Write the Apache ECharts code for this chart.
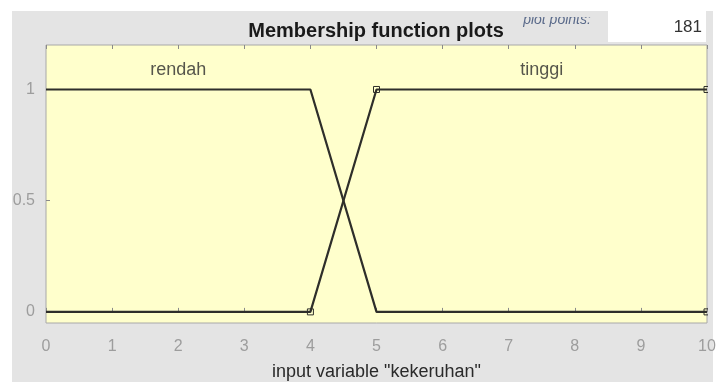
<!DOCTYPE html>
<html>
<head>
<meta charset="utf-8">
<script src="https://cdn.jsdelivr.net/npm/echarts@6/dist/echarts.min.js"></script>
<style>
  html, body { margin: 0; padding: 0; background: #ffffff; }
  #chart { width: 721px; height: 382px; }
</style>
</head>
<body>
<div id="chart"></div>
<script>
// Membership functions of the input variable "kekeruhan"
const xTicks = [0, 1, 2, 3, 4, 5, 6, 7, 8, 9, 10];
const yTicks = [0, 0.5, 1];
const rendahX = [0, 4, 5, 10];
const rendahY = [1, 1, 0, 0];
const tinggiX = [0, 4, 5, 10];
const tinggiY = [0, 0, 1, 1];
const mfNames = ['rendah', 'tinggi'];
const mfLabelX = [2, 7.5];
const mfLabelY = [1.1, 1.1];
const plotPoints = 181;

const chart = echarts.init(document.getElementById('chart'), null, { renderer: 'canvas' });

const lineColor = '#2e2e2a';
const tickColor = '#9d9d9d';
const figBg = '#e4e4e4';
const font = 'Liberation Sans, Arial, sans-serif';

// vertices that carry the small square handles
function withHandles(xs, ys, handleIdx) {
  return xs.map((x, i) => ({
    value: [x, ys[i]],
    symbol: handleIdx.includes(i) ? 'rect' : 'none'
  }));
}

const option = {
  backgroundColor: 'transparent',
  animation: false,
  graphic: [
    { type: 'rect', z: -10, shape: { x: 12, y: 11, width: 701, height: 371 }, style: { fill: figBg } },
    { type: 'rect', z: -5, shape: { x: 608, y: 11, width: 98, height: 31 }, style: { fill: '#ffffff' } },
    { type: 'text', z: 5, style: { x: 702, y: 27, text: String(plotPoints), align: 'right', verticalAlign: 'middle',
        font: '17px ' + font, fill: '#333333' } },
    { type: 'text', z: 5, style: { x: 557, y: 27, text: 'plot points:', align: 'center', verticalAlign: 'bottom',
        font: 'italic 14px ' + font, fill: '#5a6a8a' } },
    // the label sits partly under the panel's top edge
    { type: 'rect', z: 6, shape: { x: 515, y: 11, width: 92, height: 6 }, style: { fill: figBg } },
    { type: 'text', z: 5, style: { x: 376, y: 31, text: 'Membership function plots', align: 'center', verticalAlign: 'middle',
        font: 'bold 20px ' + font, fill: '#1a1a1a' } },
    // figure margin to the right of the axes hides the outer half of the end handles
    { type: 'rect', z: 100, shape: { x: 708, y: 40, width: 5, height: 290 }, style: { fill: figBg } }
  ],
  grid: { left: 46, top: 45, width: 661, height: 278, outerBoundsMode: 'none', containLabel: false,
    show: true, backgroundColor: '#ffffcc', borderColor: '#a8a8a8', borderWidth: 1 },
  xAxis: [
    {
      type: 'value', min: 0, max: 10, interval: 1, position: 'bottom',
      name: 'input variable "kekeruhan"', nameLocation: 'middle', nameGap: 40,
      nameTextStyle: { color: '#2a2a2a', fontSize: 18, fontFamily: font },
      axisLine: { show: false },
      axisTick: { show: true, inside: true, length: 4, lineStyle: { color: '#8a8a8a' } },
      axisLabel: { color: tickColor, fontSize: 16, fontFamily: font, margin: 16 },
      splitLine: { show: false },
      data: xTicks
    },
    {
      type: 'value', min: 0, max: 10, interval: 1, position: 'top',
      axisLine: { show: false },
      axisTick: { show: true, inside: true, length: 4, lineStyle: { color: '#8a8a8a' } },
      axisLabel: { show: false },
      splitLine: { show: false }
    }
  ],
  yAxis: [
    {
      type: 'value', min: -0.05, max: 1.2, position: 'left',
      axisLine: { show: false },
      axisTick: { show: true, inside: true, length: 4, customValues: yTicks, lineStyle: { color: '#8a8a8a' } },
      axisLabel: { color: tickColor, fontSize: 16, fontFamily: font, margin: 11, customValues: yTicks,
        formatter: v => String(v) },
      splitLine: { show: false }
    }
  ],
  series: [
    {
      name: mfNames[0], type: 'line', xAxisIndex: 0, yAxisIndex: 0,
      data: withHandles(rendahX, rendahY, [3]),
      symbolSize: 6, showSymbol: true, clip: false,
      itemStyle: { color: 'transparent', borderColor: lineColor, borderWidth: 1 },
      lineStyle: { color: lineColor, width: 2.2 }
    },
    {
      name: mfNames[1], type: 'line', xAxisIndex: 0, yAxisIndex: 0,
      data: withHandles(tinggiX, tinggiY, [1, 2, 3]),
      symbolSize: 6, showSymbol: true, clip: false,
      itemStyle: { color: 'transparent', borderColor: lineColor, borderWidth: 1 },
      lineStyle: { color: lineColor, width: 2.2 }
    },
    {
      type: 'scatter', xAxisIndex: 0, yAxisIndex: 0, symbolSize: 0, silent: true,
      data: mfNames.map((n, i) => ({ value: [mfLabelX[i], mfLabelY[i]], name: n })),
      label: { show: true, position: 'inside', offset: [0, 3], formatter: p => p.name,
        color: '#2a2a2a', fontSize: 18, fontFamily: font }
    }
  ]
};

chart.setOption(option);
</script>
</body>
</html>
